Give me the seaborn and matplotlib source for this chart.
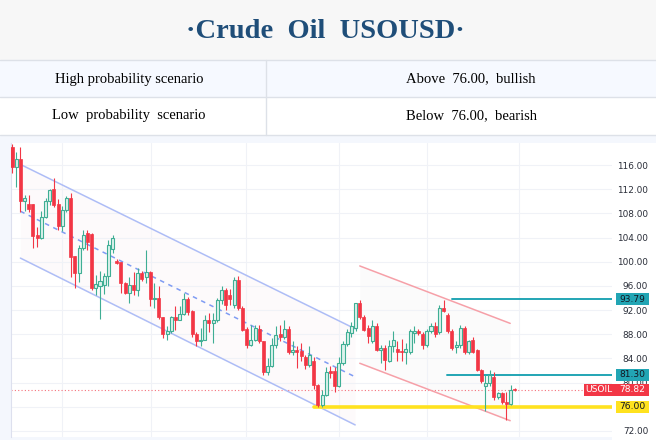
import numpy as np
import pandas as pd
import matplotlib
matplotlib.use("Agg")
import matplotlib.pyplot as plt
from matplotlib.patches import Rectangle
from matplotlib.transforms import blended_transform_factory
import seaborn as sns

sns.set_style("white")
plt.rcParams["font.family"] = ["DejaVu Sans"]

# ── data ──────────────────────────────────────────────────────────────────────
opens = [119.0, 115.7, 117.0, 110.0, 109.5, 109.5, 104.5, 103.9, 107.4, 110.0,
         112.0, 109.5, 105.9, 108.6, 110.5, 101.0, 98.1, 102.2, 104.7, 104.6,
         95.6, 96.0, 96.2, 97.6, 102.1, 100.2, 100.0, 96.4, 94.9, 96.1,
         95.3, 98.1, 97.4, 98.3, 93.8, 94.0, 90.8, 88.0, 88.5, 90.9,
         90.4, 91.3, 93.8, 91.8, 88.0, 86.9, 87.1, 90.4, 89.9, 90.4,
         93.7, 95.3, 94.5, 92.8, 97.0, 92.3, 88.9, 86.2, 87.0, 88.9,
         86.8, 81.8, 82.7, 86.2, 88.0, 87.5, 88.8, 85.1, 85.4, 85.3,
         84.3, 82.9, 83.5, 79.6, 76.3, 78.0, 82.0, 81.9, 79.4, 83.2,
         86.4, 88.2, 89.0, 93.2, 90.9, 89.0, 86.8, 89.3, 85.4, 85.8,
         83.6, 86.0, 85.6, 85.3, 85.0, 85.1, 88.2, 88.5, 88.0, 86.2,
         88.5, 89.4, 88.4, 92.4, 91.2, 88.5, 85.9, 86.2, 89.0, 85.1,
         87.0, 85.4, 82.1, 79.4, 79.9, 81.0, 77.6, 78.2, 76.8, 76.5,
         78.9]
highs = [119.5, 118.2, 118.9, 111.0, 111.0, 109.6, 105.8, 108.4, 110.5, 112.1,
         113.8, 110.3, 109.2, 110.8, 111.3, 101.0, 102.8, 105.2, 105.2, 104.7,
         97.8, 98.5, 98.2, 103.6, 104.4, 100.4, 100.0, 96.7, 97.5, 98.3,
         98.9, 98.4, 101.9, 98.4, 96.4, 96.0, 90.8, 89.3, 91.0, 92.6,
         92.6, 94.9, 94.2, 92.0, 88.4, 89.0, 91.2, 91.5, 91.5, 94.0,
         96.0, 95.7, 95.5, 97.5, 97.6, 92.6, 89.2, 89.5, 89.6, 89.6,
         86.9, 84.0, 87.4, 89.3, 89.5, 90.4, 89.3, 86.9, 86.0, 86.6,
         84.5, 86.0, 84.3, 79.8, 78.7, 82.5, 82.7, 82.5, 84.3, 86.9,
         88.8, 90.0, 93.2, 93.7, 91.2, 89.5, 90.3, 89.8, 86.2, 86.2,
         87.1, 88.6, 86.9, 87.2, 86.5, 88.9, 89.3, 88.8, 88.4, 88.8,
         89.8, 90.0, 92.8, 93.7, 91.5, 88.8, 86.8, 89.5, 89.3, 87.0,
         87.5, 85.6, 82.3, 81.2, 82.1, 81.7, 78.5, 78.4, 78.5, 79.6,
         79.1]
lows = [114.7, 112.4, 108.3, 108.4, 108.3, 102.3, 102.5, 103.7, 107.2, 109.4,
        109.1, 105.2, 105.0, 108.3, 97.5, 95.6, 96.7, 101.9, 102.0, 95.4,
        94.5, 90.6, 94.6, 95.9, 101.4, 99.6, 94.8, 94.6, 93.1, 94.5,
        94.4, 96.8, 96.4, 92.6, 92.3, 90.6, 87.3, 87.1, 88.2, 88.7,
        90.3, 91.2, 91.2, 87.6, 86.0, 86.0, 87.0, 88.4, 86.5, 90.0,
        93.0, 92.0, 92.8, 92.3, 92.0, 88.5, 85.7, 86.0, 86.8, 86.5,
        81.3, 81.3, 82.5, 85.8, 86.8, 87.2, 84.8, 84.6, 82.4, 83.5,
        82.3, 82.5, 79.0, 76.0, 75.9, 77.8, 80.7, 78.5, 79.2, 82.9,
        86.0, 87.6, 88.6, 90.6, 88.5, 86.5, 86.6, 85.2, 83.2, 82.1,
        83.4, 85.0, 83.5, 83.6, 83.0, 84.8, 86.5, 87.9, 85.5, 85.9,
        88.2, 87.6, 88.0, 91.6, 88.2, 85.4, 84.9, 85.8, 84.8, 84.8,
        84.9, 81.9, 80.0, 75.3, 79.5, 77.2, 77.3, 76.5, 73.8, 76.3,
        78.6]
closes = [115.7, 117.0, 110.0, 110.5, 108.7, 104.2, 103.9, 107.4, 110.0, 111.9,
          109.4, 105.9, 108.6, 110.6, 100.8, 98.1, 102.2, 104.4, 103.3, 95.6,
          96.3, 96.8, 97.6, 102.8, 103.9, 99.8, 96.4, 94.9, 96.1, 95.3,
          98.1, 97.1, 98.3, 93.8, 94.0, 90.8, 88.0, 88.5, 90.8, 90.4,
          91.3, 93.8, 91.6, 88.0, 86.8, 87.1, 90.4, 89.8, 90.4, 93.7,
          95.3, 92.8, 93.9, 97.0, 92.3, 88.7, 86.2, 87.0, 89.0, 86.8,
          81.8, 82.7, 86.2, 87.9, 87.5, 88.8, 85.1, 85.4, 85.0, 84.4,
          82.9, 84.6, 79.6, 76.3, 78.0, 81.8, 81.6, 79.4, 83.2, 86.4,
          88.3, 89.3, 93.1, 90.9, 88.7, 87.7, 89.3, 85.4, 85.7, 83.8,
          86.0, 87.1, 85.1, 85.0, 85.6, 88.5, 88.5, 88.2, 86.3, 88.5,
          89.3, 88.0, 92.4, 91.8, 88.5, 85.7, 86.2, 89.0, 85.1, 86.8,
          85.1, 82.1, 80.2, 79.9, 81.3, 77.6, 78.2, 76.8, 76.4, 78.8,
          78.82]

price_ticks = [72, 76, 80, 84, 88, 92, 96, 100, 104, 108, 112, 116]
grid_bars = [11.9, 33.2, 55.8, 78.0, 99.0, 121.0]

# drawn trend channels: (bar index pair, price pair)
blue_x = [2.0, 81.9]
blue_upper = [116.1, 88.9]
blue_lower = [100.6, 73.0]
red_x = [83.0, 118.9]
red_upper = [99.3, 89.8]
red_lower = [83.2, 73.7]

level_high, level_high_from = 93.79, 105.0
level_mid, level_mid_from = 81.30, 103.8
level_key, level_key_from = 76.00, 72.1
last_price = 78.82

title = "·Crude  Oil  USOUSD·"
rows = [("High probability scenario", "Above  76.00,  bullish"),
        ("Low  probability  scenario", "Below  76.00,  bearish")]

RED, GREEN, GREEN_FILL = "#f23645", "#3fae94", "#dcf2ec"
TEAL, YELLOW = "#22a5b4", "#ffe21f"
BLUE_LINE, BLUE_DASH, RED_LINE = "#aebdf6", "#7f9cf3", "#f6a0a8"

# ── figure & header table ────────────────────────────────────────────────────
fig = plt.figure(figsize=(6.56, 4.40), dpi=100)
hx = fig.add_axes([0, 0, 1, 1], zorder=0)
hx.set_xlim(0, 656); hx.set_ylim(440, 0); hx.axis("off")

hx.add_patch(Rectangle((0, 0), 656, 60, color="#f7f7f7", lw=0))
hx.add_patch(Rectangle((0, 60), 656, 37, color="#f6f9ff", lw=0))
hx.add_patch(Rectangle((0, 97), 656, 38, color="white", lw=0))
hx.add_patch(Rectangle((0, 135), 656, 305, color="#f4f7fd", lw=0))
hx.add_patch(Rectangle((612, 143), 44, 297, color="white", lw=0))
for yy in (60, 97, 135):
    hx.plot([0, 656], [yy, yy], color="#dde1e8", lw=1)
hx.plot([266, 266], [60, 135], color="#dde1e8", lw=1)

hx.text(325, 31, title, ha="center", va="center", fontsize=20.5,
        fontweight="bold", color="#1f4e79", family="Liberation Serif")
for (left, right), yc in zip(rows, (79, 116)):
    hx.text(129, yc, left, ha="center", va="center", fontsize=10.5,
            color="black", family="Liberation Serif")
    hx.text(471, yc, right, ha="center", va="center", fontsize=10.5,
            color="black", family="Liberation Serif")

# ── candle chart ─────────────────────────────────────────────────────────────
ax = fig.add_axes([11 / 656, 3 / 440, 601 / 656, 294 / 440], zorder=1)
ax.set_facecolor("white")
df = pd.DataFrame({"open": opens, "high": highs, "low": lows, "close": closes})
df["bar"] = np.arange(len(df))
up = df["close"] >= df["open"]

# faint channel backgrounds
ax.fill_between(blue_x, blue_lower, blue_upper, color="#fbeef2", alpha=0.25, lw=0, zorder=0)
ax.fill_between(red_x, red_lower, red_upper, color="#f3f3f3", alpha=0.3, lw=0, zorder=0)

ax.vlines(df["bar"][up], df["low"][up], df["high"][up], color=GREEN, lw=0.8, zorder=3)
ax.vlines(df["bar"][~up], df["low"][~up], df["high"][~up], color=RED, lw=0.8, zorder=3)
body = (df["close"] - df["open"]).abs().clip(lower=0.15)
ax.bar(df["bar"][up], body[up], bottom=df["open"][up], width=0.72,
       color=GREEN_FILL, edgecolor=GREEN, lw=0.8, zorder=4)
ax.bar(df["bar"][~up], body[~up], bottom=df["close"][~up], width=0.72,
       color=RED, edgecolor=RED, lw=0.5, zorder=4)

# channels
blue_mid = [(a + b) / 2 for a, b in zip(blue_upper, blue_lower)]
for ys, style, col in ((blue_upper, "-", BLUE_LINE), (blue_lower, "-", BLUE_LINE),
                       (blue_mid, (0, (3, 3)), BLUE_DASH)):
    sns.lineplot(x=blue_x, y=ys, ax=ax, color=col, lw=1.1, linestyle=style, zorder=2)
for ys in (red_upper, red_lower):
    sns.lineplot(x=red_x, y=ys, ax=ax, color=RED_LINE, lw=1.1, zorder=2)

# horizontal levels
xmax = 143.2
ax.plot([level_high_from, xmax], [level_high] * 2, color=TEAL, lw=1.4, zorder=2)
ax.plot([level_mid_from, xmax], [level_mid] * 2, color=TEAL, lw=1.4, zorder=2)
ax.plot([level_key_from, xmax], [level_key] * 2, color=YELLOW, lw=2.6, zorder=2)
ax.axhline(last_price, color=RED, lw=0.8, ls=(0, (1, 2)), alpha=0.7, zorder=1)

ax.set_xlim(-0.24, xmax)
ax.set_ylim(71.0, 119.64)
ax.set_xticks(grid_bars)
ax.set_xticklabels([])
ax.yaxis.tick_right()
ax.set_yticks(price_ticks)
# 76.00 tick sits fully under its own level tag, so only the tag shows it
ax.set_yticklabels(["" if v == level_key else f"{v:.2f}" for v in price_ticks])
ax.tick_params(axis="y", length=0, pad=26, labelsize=6.4, labelcolor="#2a2e39")
ax.tick_params(axis="x", length=0)
for lbl in ax.get_yticklabels():
    lbl.set_ha("right")
ax.grid(True, color="#f0f2f7", lw=0.8)
for side in ("top", "right", "bottom"):
    ax.spines[side].set_visible(False)
ax.spines["left"].set_color("#dde0ee")

# axis price tags
tr = blended_transform_factory(ax.transAxes, ax.transData)
tag_h = 1.95
def tag(y, text, fc, tc, x0=1.0067, name=None):
    x1 = 1.0622
    ax.add_patch(Rectangle((x0, y - tag_h / 2), x1 - x0, tag_h, transform=tr,
                           color=fc, lw=0, clip_on=False, zorder=6))
    ax.text(1.0345, y, text, transform=tr, ha="center", va="center",
            fontsize=6.6, color=tc, zorder=7, clip_on=False)
    if name:
        ax.text(0.978, y, name, transform=tr, ha="center", va="center",
                fontsize=6.6, color=tc, zorder=7, clip_on=False)

tag(level_high, f"{level_high:.2f}", TEAL, "#131722")
tag(level_mid, f"{level_mid:.2f}", TEAL, "#131722")
tag(level_key, f"{level_key:.2f}", YELLOW, "#131722")
tag(last_price, f"{last_price:.2f}", RED, "white", x0=0.953, name="USOIL")

fig.savefig("out.png", dpi=100)
